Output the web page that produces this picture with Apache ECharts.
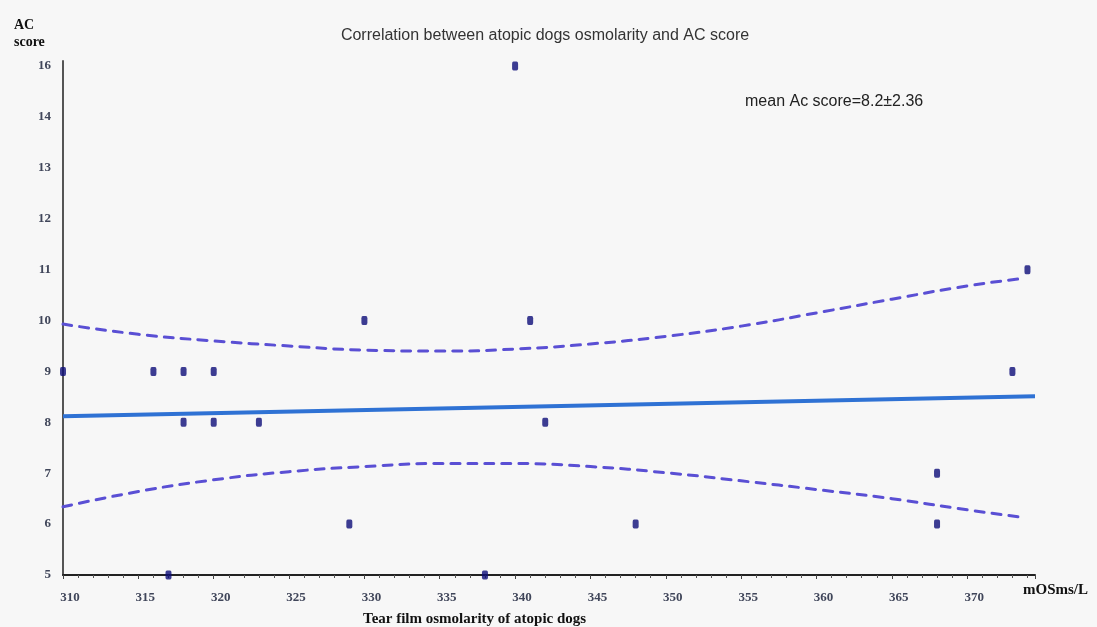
<!DOCTYPE html>
<html>
<head>
<meta charset="utf-8">
<script src="https://cdn.jsdelivr.net/npm/echarts@6/dist/echarts.min.js"></script>
<style>
  html, body { margin: 0; padding: 0; background: #f7f7f7; }
  #chart { width: 1097px; height: 627px; }
</style>
</head>
<body>
<div id="chart"></div>
<script>
// osmolarity (mOSms/L) and AC score of each dog
var osmolarity = [310, 316, 318, 320, 318, 320, 323, 317, 329, 330, 338, 340, 341, 342, 348, 368, 368, 373, 374];
var acScore    = [9, 9, 9, 9, 8, 8, 8, 5, 6, 10, 5, 16, 10, 8, 6, 7, 6, 9, 11];

// y tick labels as printed (the original axis skips 15)
var yTickLabels = ['5', '6', '7', '8', '9', '10', '11', '12', '13', '14', '16'];

// regression line end points
var fitX = [310, 374.5];
var fitY = [8.12, 8.51];

// confidence band (dashed curves)
var bandX     = [310, 315, 320, 325, 330, 335, 340, 345, 350, 355, 360, 365, 370, 373.5];
var bandUpper = [9.93, 9.73, 9.6, 9.5, 9.42, 9.4, 9.44, 9.54, 9.69, 9.89, 10.15, 10.42, 10.68, 10.82];
var bandLower = [6.34, 6.64, 6.87, 7.03, 7.13, 7.19, 7.19, 7.13, 7.01, 6.85, 6.68, 6.5, 6.28, 6.14];

// position of a score on the printed axis
function yPos(v) {
  var i = yTickLabels.indexOf(String(v));
  return i >= 0 ? i + 5 : v;
}

function pairs(xs, ys) {
  return xs.map(function (x, i) { return [x, ys[i]]; });
}

var serif = '"Liberation Serif", "DejaVu Serif", serif';
var sans = '"Liberation Sans", Arial, sans-serif';

var chart = echarts.init(document.getElementById('chart'));
var option = {
  backgroundColor: '#f7f7f7',
  animation: false,
  title: {
    text: 'Correlation between atopic dogs osmolarity and AC score',
    left: 540, top: 23, textAlign: 'center',
    textStyle: { fontFamily: sans, fontSize: 16, fontWeight: 'normal', color: '#333' }
  },
  grid: { left: 63, right: 62, top: 61, bottom: 52 },
  xAxis: {
    type: 'value',
    min: 310, max: 374.5, interval: 5,
    axisLine: { lineStyle: { color: '#222', width: 2 } },
    axisTick: { show: true, length: 4, lineStyle: { color: '#444' } },
    minorTick: { show: true, splitNumber: 5, length: 3, lineStyle: { color: '#555' } },
    splitLine: { show: false },
    axisLabel: {
      showMaxLabel: false, margin: 16, padding: [0, 0, 0, 14],
      fontFamily: serif, fontWeight: 'bold', fontSize: 13, color: '#40465a'
    }
  },
  yAxis: {
    type: 'value',
    min: 5, max: 15.1, interval: 1,
    axisLine: { show: true, lineStyle: { color: '#555', width: 2 } },
    axisTick: { show: false },
    splitLine: { show: false },
    axisLabel: {
      showMaxLabel: false, margin: 12,
      fontFamily: serif, fontWeight: 'bold', fontSize: 13, color: '#40465a',
      formatter: function (v) { return yTickLabels[Math.round(v) - 5] || ''; }
    }
  },
  series: [
    {
      type: 'line',
      data: pairs(bandX, bandUpper),
      smooth: true, symbol: 'none',
      lineStyle: { color: '#5a4fd4', width: 3, type: [9, 8], cap: 'round' }
    },
    {
      type: 'line',
      data: pairs(bandX, bandLower),
      smooth: true, symbol: 'none',
      lineStyle: { color: '#5a4fd4', width: 3, type: [9, 8], cap: 'round' }
    },
    {
      type: 'line',
      data: pairs(fitX, fitY),
      symbol: 'none',
      lineStyle: { color: '#2f72d4', width: 4 }
    },
    {
      type: 'scatter',
      data: osmolarity.map(function (x, i) { return [x, yPos(acScore[i])]; }),
      symbol: 'roundRect', symbolSize: [6, 9],
      clip: false,
      itemStyle: { color: '#0c0c78' },
      z: 5
    }
  ],
  graphic: [
    {
      type: 'text', left: 14, top: 17,
      style: { text: 'AC\nscore', font: 'bold 14px ' + serif, fill: '#111', lineHeight: 17 }
    },
    {
      type: 'text', left: 745, top: 94,
      style: { text: 'mean Ac score=8.2\u00b12.36', font: '16px ' + sans, fill: '#222' }
    },
    {
      type: 'text', left: 1023, top: 583,
      style: { text: 'mOSms/L', font: 'bold 15px ' + serif, fill: '#111' }
    },
    {
      type: 'text', left: 363, top: 612,
      style: { text: 'Tear film osmolarity of atopic dogs', font: 'bold 15px ' + serif, fill: '#111' }
    }
  ]
};
chart.setOption(option);
</script>
</body>
</html>
